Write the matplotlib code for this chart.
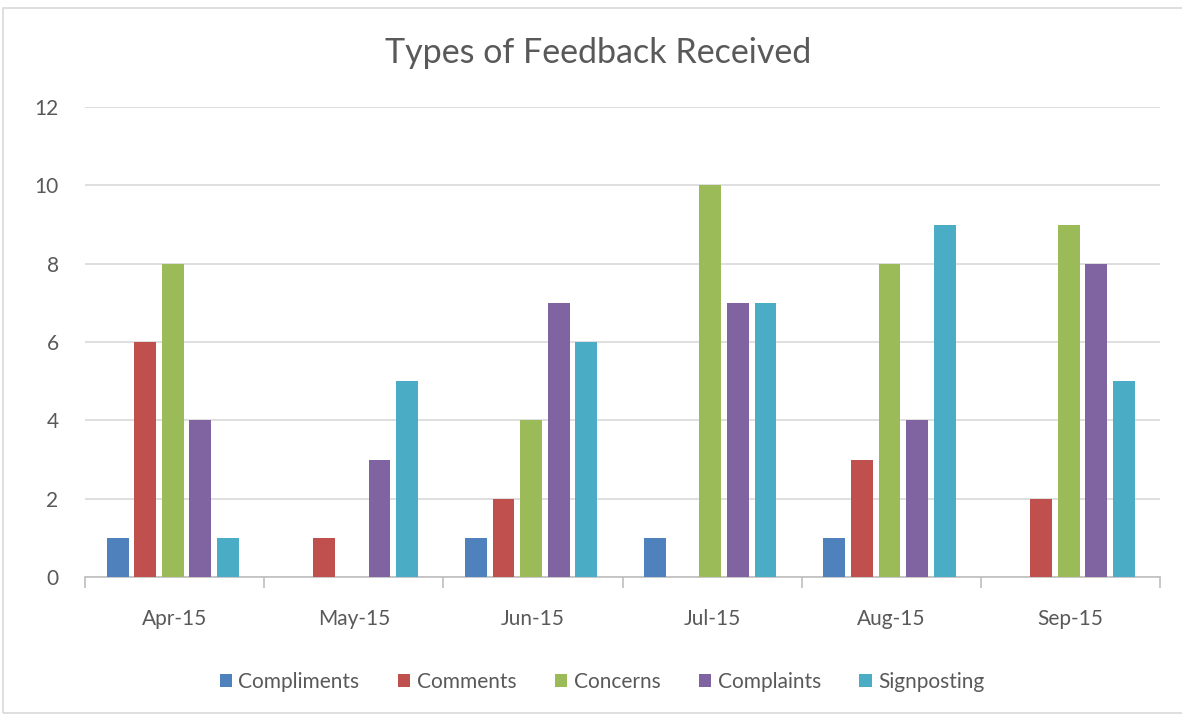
import matplotlib
matplotlib.use("Agg")
import matplotlib.pyplot as plt
from matplotlib.patches import Rectangle
import numpy as np

categories = ["Apr-15", "May-15", "Jun-15", "Jul-15", "Aug-15", "Sep-15"]
series_names = ["Compliments", "Comments", "Concerns", "Complaints", "Signposting"]
compliments = [1, 0, 1, 1, 1, 0]
comments = [6, 1, 2, 0, 3, 2]
concerns = [8, 0, 4, 10, 8, 9]
complaints = [4, 3, 7, 7, 4, 8]
signposting = [1, 5, 6, 7, 9, 5]
colors = ["#4F81BD", "#C0504D", "#9BBB59", "#8064A2", "#4BACC6"]
y_ticks = [0, 2, 4, 6, 8, 10, 12]

plt.rcParams['font.family'] = ['Lato', 'DejaVu Sans']
text_color = "#595959"

fig = plt.figure(figsize=(11.82, 7.16), dpi=100)
fig.patches.append(Rectangle((3/1182, 3/716), 1.2, 705/716, transform=fig.transFigure,
                             fill=False, edgecolor="#D9D9D9", linewidth=1.2))
ax = fig.add_axes([85/1182, 1 - 577/716, 1075/1182, 470/716])

data = [compliments, comments, concerns, complaints, signposting]
x = np.arange(len(categories))
bw = 0.122
step = 0.154
for i, (name, vals, c) in enumerate(zip(series_names, data, colors)):
    ax.bar(x + (i - 2) * step - 0.01, vals, width=bw, color=c, label=name, zorder=3)

ax.set_xlim(-0.5, len(categories) - 0.5)
ax.set_ylim(0, 12)
ax.set_yticks(y_ticks)
ax.set_yticklabels([str(v) for v in y_ticks], fontsize=15, color=text_color)
ax.tick_params(axis='y', length=0, pad=19)
ax.yaxis.grid(True, color="#D9D9D9", linewidth=1.2, zorder=0)
ax.set_axisbelow(True)

ax.set_xticks(np.arange(-0.5, len(categories)), minor=False)
ax.set_xticklabels([])
ax.tick_params(axis='x', which='major', length=8, color="#BFBFBF", width=1.2)
ax.set_xticks(x, minor=True)
ax.set_xticklabels(categories, minor=True, fontsize=15, color=text_color)
ax.tick_params(axis='x', which='minor', length=0, pad=23)

for s in ["top", "right", "left"]:
    ax.spines[s].set_visible(False)
ax.spines["bottom"].set_color("#BFBFBF")
ax.spines["bottom"].set_linewidth(1.2)

fig.text(598/1182, 1 - 53/716, "Types of Feedback Received", ha='center', va='center',
         fontsize=24.5, color=text_color)

leg = fig.legend(loc='center', bbox_to_anchor=(602/1182, 1 - 682/716), ncol=5, frameon=False,
                 fontsize=15, handlelength=0.6, handleheight=0.6, handletextpad=0.3,
                 columnspacing=1.85)
for t in leg.get_texts():
    t.set_color(text_color)

fig.savefig("out.png", dpi=100)
